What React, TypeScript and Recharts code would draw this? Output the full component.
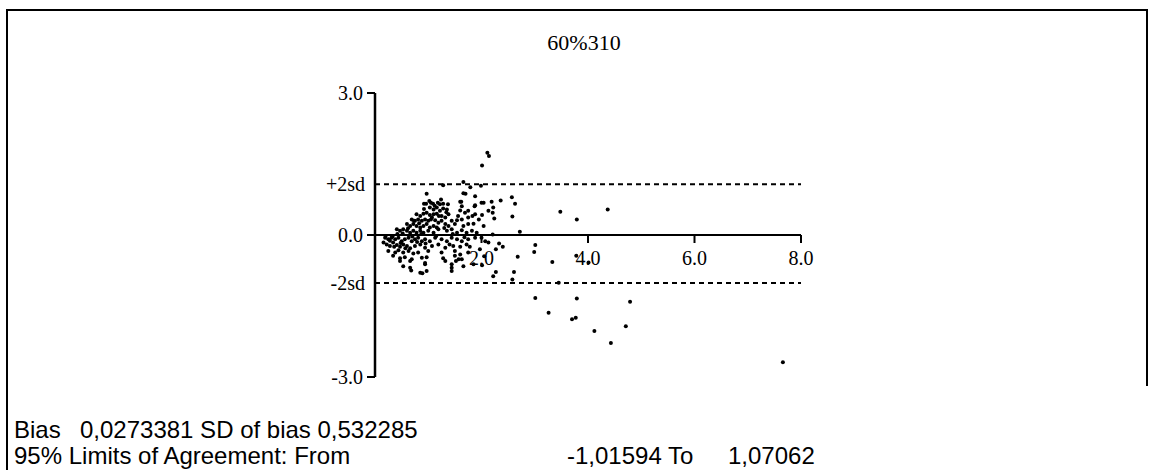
import { ReferenceDot, ReferenceLine, Scatter, ScatterChart, XAxis, YAxis } from "recharts";

// mean of the two methods (x) and their difference (y)
const meanVals = [
  2.11, 2.14, 2.01, 2.04, 2.19, 2.36, 2.57, 2.63, 2.22, 2.13, 2.21, 2.01, 2.24, 2.58, 2.04, 2.21, 2.72,
  3.48, 3.79, 4.37,
  2.07, 2.13, 2.33, 2.40, 2.27, 3.01, 2.99, 2.68, 3.33, 3.78, 4.01, 2.01, 2.27, 2.22, 2.61, 2.58, 3.45,
  3.01, 3.26, 3.79, 3.70, 3.77, 4.12, 4.43, 4.71, 4.79, 7.66,
  1.66, 1.28, 1.99, 1.79, 0.97, 1.70, 1.60, 1.63, 1.87,
  1.05, 1.18, 0.92, 0.96, 1.09, 1.22, 1.28, 1.37,
  1.66, 1.88, 1.62, 1.88, 2.00,
  1.03, 1.10, 1.16, 1.22, 1.28, 1.35, 1.60, 1.69, 1.75,
  0.78, 0.85, 0.91, 0.97, 1.03, 1.10, 1.16, 1.25, 1.32, 1.38,
  0.69, 0.75, 0.81, 0.88, 0.94, 1.00, 1.07, 1.13, 1.19, 1.25, 1.44, 1.54, 1.63, 1.75, 1.88,
  0.60, 0.66, 0.72, 0.78, 0.85, 0.91, 0.97, 1.03, 1.10, 1.16, 1.32, 1.38, 1.50, 1.66, 1.75, 1.85,
  0.41, 0.47, 0.53, 0.60, 0.66, 0.72, 0.78, 0.85, 0.91, 1.00, 1.10, 1.19, 1.35, 1.44, 1.54, 1.63, 1.72, 1.82, 1.91,
  0.19, 0.25, 0.31, 0.38, 0.44, 0.50, 0.56, 0.63, 0.69, 0.75, 0.81, 0.88, 0.94, 1.03, 1.13, 1.25, 1.35, 1.44, 1.54, 1.63, 1.75, 1.88, 2.00,
  0.16, 0.22, 0.28, 0.34, 0.41, 0.47, 0.53, 0.60, 0.66, 0.75, 0.85, 0.94, 1.07, 1.19, 1.32, 1.47, 1.60, 1.72,
  0.25, 0.38, 0.44, 0.53, 0.63, 0.72, 0.81, 1.00, 1.25, 1.50, 1.60, 1.75,
  0.34, 0.47, 0.56, 0.69, 0.88, 0.97, 1.28, 1.50, 1.63,
  0.47, 0.66, 0.94, 1.32, 1.44, 1.57,
  0.53, 0.66, 0.94, 1.44, 1.66, 1.85,
  0.85, 0.97, 1.44, 0.68, 0.89,
  0.20, 0.28, 0.33, 0.36, 0.42, 0.48, 0.52, 0.57, 0.62, 0.70, 0.73, 0.79, 0.83, 0.87, 0.92, 0.95,
  1.02, 1.05, 1.12, 1.15, 1.20, 1.24, 1.30, 1.34, 1.40, 1.46, 1.52, 1.56, 1.68, 1.78, 1.83, 1.95, 1.97, 2.05,
];
const diffVals = [
  1.74, 1.67, 1.47, 0.68, 0.70, 0.73, 0.80, 0.66, 0.58, 0.51, 0.47, 0.42, 0.35, 0.39, 0.19, 0.01, 0.07,
  0.49, 0.33, 0.54,
  -0.13, -0.16, -0.18, -0.25, -0.30, -0.21, -0.36, -0.46, -0.57, -0.44, -0.58, -0.64, -0.78, -0.87, -0.78, -0.94, -1.01,
  -1.33, -1.64, -1.34, -1.78, -1.75, -2.03, -2.28, -1.93, -1.41, -2.69,
  1.12, 1.05, 1.04, 1.01, 0.87, 0.87, 0.70, 0.61, 0.61,
  0.68, 0.68, 0.66, 0.66, 0.66, 0.65, 0.66, 0.65,
  0.88, 0.82, 0.70, 0.63, 0.68,
  0.58, 0.54, 0.58, 0.51, 0.56, 0.54, 0.52, 0.47, 0.51,
  0.44, 0.40, 0.45, 0.47, 0.42, 0.44, 0.45, 0.40, 0.37, 0.44,
  0.33, 0.30, 0.33, 0.30, 0.33, 0.30, 0.37, 0.31, 0.26, 0.30, 0.30, 0.31, 0.33, 0.37, 0.44,
  0.23, 0.19, 0.23, 0.19, 0.16, 0.19, 0.23, 0.16, 0.19, 0.16, 0.23, 0.19, 0.23, 0.19, 0.23, 0.24,
  0.12, 0.09, 0.12, 0.09, 0.05, 0.09, 0.05, 0.09, 0.05, 0.09, 0.05, 0.12, 0.09, 0.12, 0.05, 0.10, 0.05, 0.09, 0.05,
  -0.06, -0.09, -0.06, -0.09, -0.06, -0.13, -0.09, -0.06, -0.13, -0.09, -0.06, -0.13, -0.09, -0.13, -0.06, -0.09, -0.13, -0.06, -0.09, -0.13, -0.09, -0.06, -0.06,
  -0.16, -0.20, -0.23, -0.16, -0.21, -0.25, -0.20, -0.23, -0.28, -0.23, -0.20, -0.27, -0.23, -0.20, -0.27, -0.23, -0.25, -0.20,
  -0.34, -0.37, -0.32, -0.37, -0.34, -0.39, -0.37, -0.34, -0.37, -0.34, -0.41, -0.37,
  -0.44, -0.49, -0.47, -0.51, -0.48, -0.47, -0.49, -0.44, -0.51,
  -0.55, -0.55, -0.59, -0.55, -0.62, -0.51,
  -0.66, -0.69, -0.62, -0.69, -0.66, -0.62,
  -0.80, -0.76, -0.76, -0.75, -0.81,
  -0.02, -0.12, -0.03, -0.25, 0.02, -0.17, 0.03, -0.28, 0.14, -0.03, 0.30, -0.15, 0.25, 0.02, 0.55, -0.18,
  0.72, 0.33, 0.62, -0.02, 0.40, 0.75, 0.15, 0.48, -0.20, 0.02, -0.55, 0.40, -0.05, -0.25, 0.40, 0.33, -0.30, -0.45,
];

const xTicks = [2, 4, 6, 8];
const yTicks = [-3, 0, 3];
const lowerLimit = -1.01594;
const upperLimit = 1.07062;
const title = "60%310";

const points = meanVals.map((m, i) => ({ mean: m, diff: diffVals[i] }));

const serif = "'Liberation Serif', 'Times New Roman', serif";
const sans = "'Liberation Sans', Arial, sans-serif";

function XTickMark(props: any) {
  const { cx, cy, label } = props;
  return (
    <g>
      <line x1={cx} y1={cy} x2={cx} y2={cy + 8} stroke="#000" strokeWidth={2} />
      <text x={cx} y={cy + 30} textAnchor="middle" fontFamily={serif} fontSize={20} fill="#000">
        {label}
      </text>
    </g>
  );
}

const noteStyle = { position: "absolute" as const, fontFamily: sans, fontSize: 24, color: "#000", whiteSpace: "pre" as const };

export default function App() {
  return (
    <div style={{ position: "absolute", left: 0, top: 0, width: 1155, height: 470, background: "#fff" }}>
      {/* frame */}
      <div style={{ position: "absolute", left: 6, top: 9, width: 1142, height: 2, background: "#000" }} />
      <div style={{ position: "absolute", left: 6, top: 9, width: 2, height: 461, background: "#000" }} />
      <div style={{ position: "absolute", left: 1146, top: 9, width: 2, height: 377, background: "#000" }} />

      <div
        style={{
          position: "absolute", left: 484, width: 200, top: 30, textAlign: "center",
          fontFamily: serif, fontSize: 22, color: "#000",
        }}
      >
        {title}
      </div>

      <ScatterChart width={1155} height={470} margin={{ top: 93, right: 354, bottom: 93, left: 315 }}>
        <XAxis type="number" dataKey="mean" domain={[0, 8]} hide />
        <YAxis
          type="number"
          dataKey="diff"
          domain={[-3, 3]}
          ticks={yTicks}
          width={60}
          tickSize={8}
          tickMargin={4}
          tickFormatter={(v: number) => v.toFixed(1)}
          axisLine={{ stroke: "#000", strokeWidth: 2.5 }}
          tickLine={{ stroke: "#000", strokeWidth: 2 }}
          tick={{ fill: "#000", fontFamily: serif, fontSize: 20 }}
        />
        <ReferenceLine
          y={upperLimit}
          stroke="#000"
          strokeWidth={2}
          strokeDasharray="5 4"
          label={{ value: "+2sd", position: "left", offset: 10, fill: "#000", fontFamily: serif, fontSize: 20 }}
        />
        <ReferenceLine
          y={lowerLimit}
          stroke="#000"
          strokeWidth={2}
          strokeDasharray="5 4"
          label={{ value: "-2sd", position: "left", offset: 10, fill: "#000", fontFamily: serif, fontSize: 20 }}
        />
        <ReferenceLine y={0} stroke="#000" strokeWidth={2} />
        {xTicks.map((t) => (
          <ReferenceDot
            key={t}
            x={t}
            y={0}
            r={0}
            shape={(p: any) => <XTickMark {...p} label={t.toFixed(1)} />}
          />
        ))}
        <Scatter
          data={points}
          isAnimationActive={false}
          shape={(p: any) => <circle cx={p.cx} cy={p.cy} r={2} fill="#000" />}
        />
      </ScatterChart>

      <div style={{ ...noteStyle, left: 14, top: 416 }}>Bias</div>
      <div style={{ ...noteStyle, left: 80, top: 416 }}>0,0273381 SD of bias 0,532285</div>
      <div style={{ ...noteStyle, left: 14, top: 442 }}>95% Limits of Agreement: From</div>
      <div style={{ ...noteStyle, left: 567, top: 442 }}>-1,01594 To</div>
      <div style={{ ...noteStyle, left: 728, top: 442 }}>1,07062</div>
    </div>
  );
}
